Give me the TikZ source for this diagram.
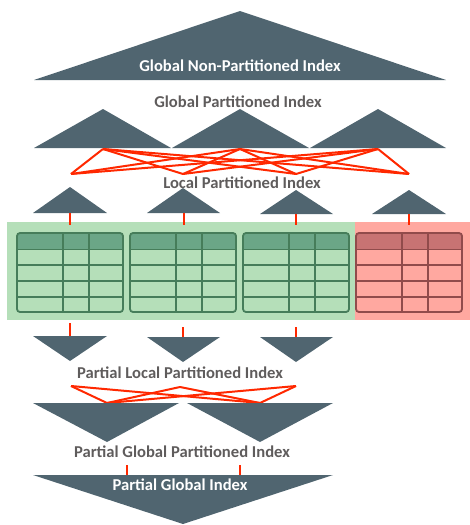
\documentclass[tikz,border=0pt]{standalone}
\usepackage{fontspec}
\setmainfont{Carlito}
\definecolor{slate}{RGB}{80,101,112}
\definecolor{lbl}{RGB}{95,92,92}
\definecolor{redln}{RGB}{255,40,0}
\definecolor{gbg}{RGB}{181,223,185}
\definecolor{ghead}{RGB}{107,166,135}
\definecolor{gline}{RGB}{70,125,90}
\definecolor{rbg}{RGB}{255,168,160}
\definecolor{rhead}{RGB}{200,115,115}
\definecolor{rline}{RGB}{145,75,75}
\tikzset{
  tri/.style={fill=slate,draw=none},
  link/.style={draw=redln,line width=2pt,line join=round},
  graylbl/.style={text=lbl,font=\fontsize{16.6}{18}\selectfont\bfseries,inner sep=0pt},
  whitelbl/.style={text=white,font=\fontsize{16.6}{18}\selectfont\bfseries,inner sep=0pt},
}
\newcommand{\mytable}[4]{% x, header colour, line colour, name
  \begin{scope}[shift={(#1,233)}]
    \fill[#2,rounded corners=3pt] (0,0) -- (0,16.5) -- (106,16.5) -- (106,0) [sharp corners] -- cycle;
    \fill[#2] (0,8) rectangle (106,16.5);
    \draw[#3,line width=1.8pt,rounded corners=3pt] (0,0) rectangle (106,79);
    \draw[#3,line width=1.8pt] (0,16.5) -- (106,16.5) (0,32) -- (106,32) (0,48) -- (106,48) (0,64) -- (106,64)
      (46,0) -- (46,79) (72,0) -- (72,79);
    \coordinate (#4) at (53,0);
  \end{scope}}
\begin{document}
\begin{tikzpicture}[x=1pt,y=-1pt]
\useasboundingbox (0,0) rectangle (470,525);
% top global non-partitioned
\fill[tri] (34,80) -- (240,11) -- (446,80) -- cycle;
\node[whitelbl] (gnp) at (240,66) {Global Non-Partitioned Index};
\node[graylbl] (gp) at (238,102) {Global Partitioned Index};
% global partitioned triangles
\fill[tri] (34,148) -- (103,109) -- (171,148) -- cycle;
\fill[tri] (172,148) -- (240,109) -- (309,148) -- cycle;
\fill[tri] (310,148) -- (378,109) -- (446,148) -- cycle;
\coordinate (g1) at (103,149);
\coordinate (g2) at (240,149);
\coordinate (g3) at (378,149);
\coordinate (l1) at (71,174);
\coordinate (l2) at (183,174);
\coordinate (l3) at (296,174);
\coordinate (l4) at (409,174);
\foreach \a in {g1,g2,g3}{\foreach \b in {l1,l2,l3,l4}{\draw[link] (\a) -- (\b);}}
\node[graylbl] (lp) at (242,183) {Local Partitioned Index};
% backgrounds
\fill[gbg] (7,222) rectangle (355,320);
\fill[rbg] (355,222) rectangle (470,320);
% local triangles
\fill[tri] (33,213) -- (70,187) -- (107,213) -- cycle;
\fill[tri] (147,213) -- (183,188) -- (220,213) -- cycle;
\fill[tri] (260,214) -- (296,190) -- (333,214) -- cycle;
\fill[tri] (372,214) -- (409,190) -- (446,214) -- cycle;
\coordinate (lb1) at (70,213);
\coordinate (lb2) at (184,213);
\coordinate (lb3) at (296,214);
\coordinate (lb4) at (409,214);
% tables
\mytable{17}{ghead}{gline}{t1}
\mytable{130}{ghead}{gline}{t2}
\mytable{243}{ghead}{gline}{t3}
\mytable{356}{rhead}{rline}{t4}
\coordinate (tt1) at (70,225);
\coordinate (tt2) at (184,225);
\coordinate (tt3) at (296,225);
\coordinate (tt4) at (409,225);
\foreach \i in {1,2,3,4}{\draw[link] (lb\i) -- (tt\i);}
% partial local
\coordinate (pb1) at (70,323);
\coordinate (pb2) at (183,327);
\coordinate (pb3) at (296,327);
\coordinate (pt1) at (70,337);
\coordinate (pt2) at (183,338);
\coordinate (pt3) at (296,338);
\foreach \i in {1,2,3}{\draw[link] (pb\i) -- (pt\i);}
\fill[tri] (33,336) -- (107,336) -- (70,361) -- cycle;
\fill[tri] (147,337) -- (220,337) -- (183,362) -- cycle;
\fill[tri] (260,337) -- (333,337) -- (296,362) -- cycle;
\node[graylbl] (plp) at (180,373) {Partial Local Partitioned Index};
\coordinate (q1) at (71,386);
\coordinate (q2) at (180,387);
\coordinate (q3) at (296,386);
\coordinate (r1) at (107,403);
\coordinate (r2) at (260,403);
\foreach \a in {q1,q2,q3}{\foreach \b in {r1,r2}{\draw[link] (\a) -- (\b);}}
% partial global partitioned
\fill[tri] (33,403) -- (179,403) -- (107,442) -- cycle;
\fill[tri] (187,403) -- (333,403) -- (260,442) -- cycle;
\node[graylbl] (pgp) at (182,452) {Partial Global Partitioned Index};
\coordinate (s1) at (127,465);
\coordinate (s2) at (240,465);
\coordinate (u1) at (127,476);
\coordinate (u2) at (240,476);
\draw[link] (s1) -- (u1);
\draw[link] (s2) -- (u2);
% partial global
\fill[tri] (33,475) -- (333,475) -- (183,524) -- cycle;
\node[whitelbl] (pg) at (180,485) {Partial Global Index};
\end{tikzpicture}
\end{document}
